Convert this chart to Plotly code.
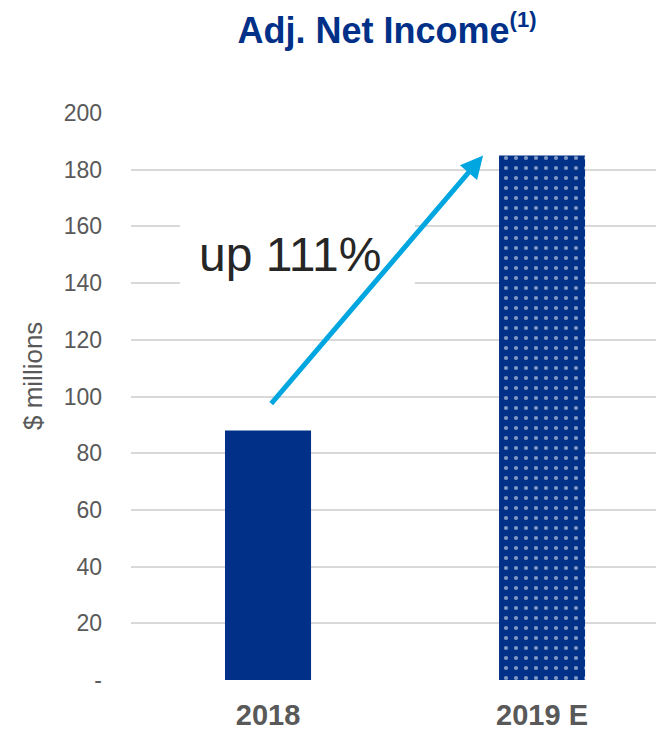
import plotly.graph_objects as go

categories = ["<b>2018</b>", "<b>2019 E</b>"]
values = [88, 185]
patterns = ["", "."]
tick_vals = [0, 20, 40, 60, 80, 100, 120, 140, 160, 180, 200]
tick_text = ["-", "20", "40", "60", "80", "100", "120", "140", "160", "180", "200"]
growth_label = "up 111%"
arrow_start = (0.007, 97)
arrow_end = (0.785, 185)

NAVY = "#003087"
FONT = "Liberation Sans, Arial, sans-serif"

W, H = 656, 724  # page body has an 8px margin

fig = go.Figure()
fig.add_trace(go.Bar(
    x=[0, 1], y=values, width=0.314,
    marker=dict(color=NAVY, line=dict(width=0),
                pattern=dict(shape=patterns, fgcolor="white", size=10, solidity=0.14)),
    hoverinfo="skip",
))

fig.update_layout(
    width=W, height=H,
    margin=dict(l=123, r=0, t=105, b=52),
    paper_bgcolor="white", plot_bgcolor="white",
    showlegend=False,
    font=dict(family=FONT, color="#595959"),
    title=dict(text="<b>Adj. Net Income<sup><span style='font-size:22px'>(1)</span></sup></b>",
               xref="container", yref="container",
               x=379/W, xanchor="center", y=1-22/H, yanchor="middle",
               font=dict(size=36, color=NAVY, family=FONT)),
    xaxis=dict(range=[-0.5, 1.445], tickvals=[0, 1], ticktext=categories,
               showgrid=False, zeroline=False, showline=False, ticks="",
               tickfont=dict(size=29, color="#595959", family=FONT),
               ticklabelstandoff=15),
    yaxis=dict(range=[0, 200], tickvals=tick_vals, ticktext=tick_text,
               showgrid=True, gridcolor="#d9d9d9", gridwidth=1.5, zeroline=False,
               showline=False, ticks="",
               tickfont=dict(size=23, color="#595959", family=FONT),
               ticklabelstandoff=28),
)

# white box masking gridlines behind the growth label
fig.add_shape(type="rect", xref="x", yref="y", x0=-0.321, x1=0.536, y0=135.4, y1=164.4,
              fillcolor="white", line=dict(width=0), layer="above")

fig.add_annotation(x=0.08, y=150, xref="x", yref="y", text=growth_label, showarrow=False,
                   font=dict(size=48, color="#262626", family=FONT))

fig.add_annotation(x=arrow_end[0], y=arrow_end[1], ax=arrow_start[0], ay=arrow_start[1],
                   xref="x", yref="y", axref="x", ayref="y", text="", showarrow=True,
                   arrowcolor="#00A6E0", arrowwidth=5, arrowhead=2, arrowsize=0.9, standoff=0)

fig.add_annotation(x=-(131 - 33) / 533, y=(680 - 376) / 567, xref="paper", yref="paper",
                   xanchor="center", yanchor="middle",
                   text="$ millions", textangle=-90, showarrow=False,
                   font=dict(size=26, color="#595959", family=FONT))

fig.write_html("out.html")
